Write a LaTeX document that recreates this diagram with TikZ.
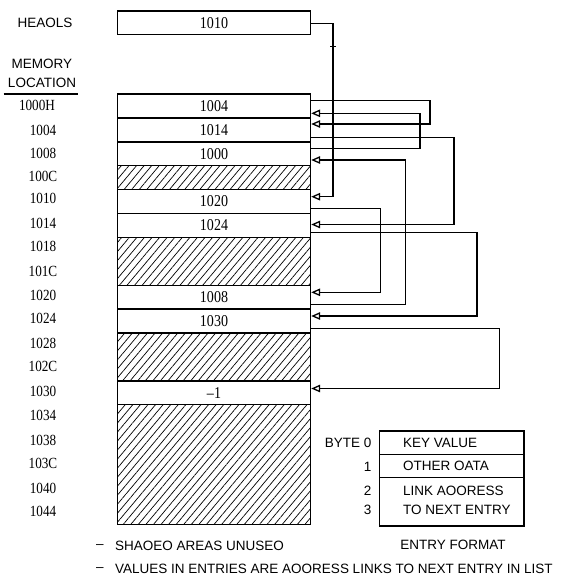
\documentclass[tikz,border=0pt]{standalone}
\usepackage{fontspec}
\setmainfont{Liberation Sans}
\newfontfamily\numfont[FakeStretch=0.85]{Liberation Serif}
\usetikzlibrary{arrows.meta,patterns.meta}
\begin{document}
\begin{tikzpicture}[x=1pt,y=-1pt,
  cell/.style={draw,line width=1.4pt,minimum width=193pt,minimum height=23.9pt,inner sep=0pt,font=\numfont\fontsize{16.5}{16.5}\selectfont},
  hatch/.style={draw,line width=1.4pt,minimum width=193pt,inner sep=0pt,pattern={Lines[angle=50,distance=5.8pt,line width=0.7pt]}},
  legbox/.style={draw,line width=1.3pt,minimum width=144.7pt,inner sep=0pt},
  loc/.style={font=\numfont\fontsize{15.5}{15.5}\selectfont,inner sep=0pt},
  lbl/.style={font=\fontsize{13.5}{13.5}\selectfont,inner sep=0pt},
  link/.style={line width=1.3pt,-{Triangle[open,length=9pt,width=7.5pt,line width=1.3pt]}},
  wire/.style={line width=1.3pt}]
\useasboundingbox (0,0) rectangle (570,581);

% heads pointer
\node[cell,minimum height=23.3pt] (hd) at (214,22.7) {1010};
\node[lbl] (hdl) at (45,22.5) {HEAOLS};
\node[lbl] (mem) at (42,63.6) {MEMORY};
\node[lbl] (locl) at (42,83) {LOCATION};
\draw[line width=1.1pt] (3.6,94) -- (78,94);

% memory cells
\node[cell] (r0) at (214,105.95) {1004};
\node[cell] (r1) at (214,129.85) {1014};
\node[cell] (r2) at (214,153.75) {1000};
\node[hatch,minimum height=23.9pt] (h3) at (214,177.65) {};
\node[cell] (r4) at (214,201.55) {1020};
\node[cell] (r5) at (214,225.45) {1024};
\node[hatch,minimum height=47.8pt] (h6) at (214,261.3) {};
\node[cell] (r8) at (214,297.15) {1008};
\node[cell] (r9) at (214,321.05) {1030};
\node[hatch,minimum height=47.8pt] (h10) at (214,356.9) {};
\node[cell] (r12) at (214,392.75) {–1};
\node[hatch,minimum height=119.5pt] (h13) at (214,464.45) {};

% location labels
\node[loc] (m0) at (37,105) {1000H};
\foreach \t/\y [count=\i] in {1004/130,1008/153,100C/176,1010/198.5,1014/223,1018/246.7,101C/271.7,1020/295,1024/318.5,1028/343,102C/366.7,1030/391.7,1034/415,1038/440,103C/463,1040/488,1044/511.7}
  \node[loc] (m\i) at (43,\y) {\t};

% links
\draw[link] (hd.east |- 0,23.3) -| (333,196.7) -- (r4.east |- 0,196.7);
\draw[wire] (330,46.7) -- (336,46.7);
\draw[link] (r0.east |- 0,100.7) -| (430,124) -- (r1.east |- 0,124);
\draw[link] (r2.east |- 0,148.7) -| (420,113.3) -- (r0.east |- 0,113.3);
\draw[link] (r1.east |- 0,137.3) -| (454,224.5) -- (r5.east |- 0,224.5);
\draw[link] (r8.east |- 0,304.7) -| (405.5,160) -- (r2.east |- 0,160);
\draw[link] (r4.east |- 0,208.7) -| (380.5,292.3) -- (r8.east |- 0,292.3);
\draw[link] (r5.east |- 0,232.3) -| (477,316) -- (r9.east |- 0,316);
\draw[link] (r9.east |- 0,328.7) -| (499.5,388.5) -- (r12.east |- 0,388.5);

% legend
\node[legbox,minimum height=23.3pt] (lg0) at (451.65,442.65) {};
\node[legbox,minimum height=23pt] (lg1) at (451.65,465.8) {};
\node[legbox,minimum height=48.7pt] (lg2) at (451.65,501.65) {};
\node[lbl,anchor=west] (k0) at (403,442.7) {KEY VALUE};
\node[lbl,anchor=west] (k1) at (403,466) {OTHER OATA};
\node[lbl,anchor=west] (k2) at (403,490.7) {LINK AOORESS};
\node[lbl,anchor=west] (k3) at (403,510) {TO NEXT ENTRY};
\node[lbl,anchor=east] (b0) at (371.7,442.7) {BYTE 0};
\node[lbl,anchor=east] (b1) at (371.7,466.7) {1};
\node[lbl,anchor=east] (b2) at (371.7,490.7) {2};
\node[lbl,anchor=east] (b3) at (371.7,510) {3};
\node[lbl] (ef) at (453,545) {ENTRY FORMAT};

% notes
\node[lbl] (d1) at (100,546.5) {–};
\node[lbl,anchor=west] (n1) at (115,545.7) {SHAOEO AREAS UNUSEO};
\node[lbl] (d2) at (100,569.3) {–};
\node[lbl,anchor=west] (n2) at (115,568.5) {VALUES IN ENTRIES ARE AOORESS LINKS TO NEXT ENTRY IN LIST};
\end{tikzpicture}
\end{document}
